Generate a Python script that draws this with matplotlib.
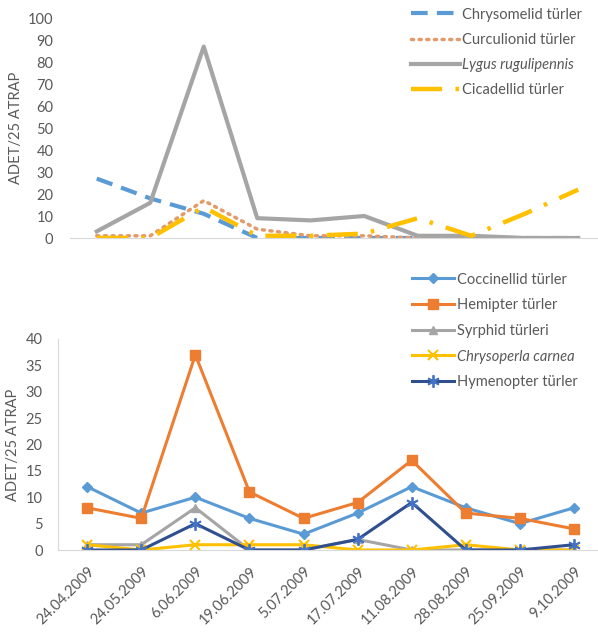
import matplotlib
matplotlib.use("Agg")
import matplotlib.pyplot as plt

plt.rcParams['font.family'] = ['Lato', 'DejaVu Sans']

dates = ["24.04.2009", "24.05.2009", "6.06.2009", "19.06.2009", "5.07.2009",
         "17.07.2009", "11.08.2009", "28.08.2009", "25.09.2009", "9.10.2009"]

# Pests (upper panel)
chrysomelid = [27, 18, 11, 0, 0, 0, 0, 0, 0, 0]
curculionid = [1, 1, 17, 4, 1, 1, 0, 0, 0, 0]
lygus = [3, 16, 87, 9, 8, 10, 1, 1, 0, 0]
cicadellid = [0, 0, 14, 1, 1, 2, 9, 1, 11, 22]

# Natural enemies (lower panel)
coccinellid = [12, 7, 10, 6, 3, 7, 12, 8, 5, 8]
hemipter = [8, 6, 37, 11, 6, 9, 17, 7, 6, 4]
syrphid = [1, 1, 8, 0, 0, 2, 0, 0, 0, 0]
chrysoperla = [1, 0, 1, 1, 1, 0, 0, 1, 0, 0]
hymenopter = [0, 0, 5, 0, 0, 2, 9, 0, 0, 1]

TXT = "#595959"
AXC = "#D9D9D9"
BLUE = "#5B9BD5"
ORANGE = "#ED7D31"
GRAY = "#A5A5A5"
GOLD = "#FFC000"
DKBLUE = "#2F4F8F"
FS = 10.5

W, H = 598, 643
fig = plt.figure(figsize=(W / 100, H / 100), dpi=100)


def frac(x0, y0, x1, y1):
    return [x0 / W, 1 - y1 / H, (x1 - x0) / W, (y1 - y0) / H]


x = list(range(len(dates)))

# ---------- upper panel ----------
ax1 = fig.add_axes(frac(70, 18, 605, 238))
ax1.plot(x, chrysomelid, color=BLUE, lw=3, dashes=(4, 2.2), label="Chrysomelid türler")
ax1.plot(x, curculionid, color="#E39A6A", lw=2.5, dashes=(0.6, 1.6),
         dash_capstyle='round', label="Curculionid türler")
ax1.plot(x, lygus, color=GRAY, lw=3, label="Lygus rugulipennis")
ax1.plot(x, cicadellid, color=GOLD, lw=3.2, dashes=(7, 3, 0.8, 3),
         label="Cicadellid türler")
ax1.set_xlim(-0.5, 9.5)
ax1.set_ylim(0, 100)
ax1.set_yticks(range(0, 101, 10))
ax1.set_xticks([])
for s in ("top", "right", "left"):
    ax1.spines[s].set_visible(False)
ax1.spines["bottom"].set_color(AXC)
ax1.tick_params(axis='y', length=0, pad=12, labelsize=FS, labelcolor=TXT)
ax1.set_ylabel("ADET/25 ATRAP", fontsize=FS, color=TXT)
ax1.yaxis.set_label_coords(-0.088, 0.5)
leg1 = ax1.legend(loc="upper left", bbox_to_anchor=(0.612, 1.107), frameon=False,
                  fontsize=FS, handlelength=3.4, handletextpad=0.15,
                  labelspacing=0.76, labelcolor=TXT)
leg1.get_texts()[2].set_style("italic")

# ---------- lower panel ----------
ax2 = fig.add_axes(frac(58, 339, 601, 550))
ax2.plot(x, coccinellid, color=BLUE, lw=2.2, marker='D', ms=5, label="Coccinellid türler")
ax2.plot(x, hemipter, color=ORANGE, lw=2.2, marker='s', ms=7, label="Hemipter türler")
ax2.plot(x, syrphid, color=GRAY, lw=2.2, marker='^', ms=6, label="Syrphid türleri")
ax2.plot(x, chrysoperla, color=GOLD, lw=2.2, marker='x', ms=7, mew=1.5,
         label="Chrysoperla carnea")
ax2.plot(x, hymenopter, color=DKBLUE, lw=2.2, marker=(6, 2, 0), ms=9, mew=1.3,
         mec="#4472C4", label="Hymenopter türler")
ax2.set_xlim(-0.54, 9.5)
ax2.set_ylim(0, 40)
ax2.set_yticks(range(0, 41, 5))
ax2.set_xticks(x)
ax2.set_xticklabels(dates, rotation=45, ha='right', rotation_mode='anchor')
for s in ("top", "right"):
    ax2.spines[s].set_visible(False)
ax2.spines["bottom"].set_color(AXC)
ax2.spines["left"].set_color(AXC)
ax2.tick_params(axis='y', length=0, pad=11, labelsize=FS, labelcolor=TXT)
ax2.tick_params(axis='x', length=0, pad=10, labelsize=FS, labelcolor=TXT)
ax2.set_ylabel("ADET/25 ATRAP", fontsize=FS, color=TXT)
ax2.yaxis.set_label_coords(-0.07, 0.5)
leg2 = ax2.legend(loc="upper left", bbox_to_anchor=(0.628, 1.377), frameon=False,
                  fontsize=FS, handlelength=2.9, handletextpad=0.15,
                  labelspacing=0.8, labelcolor=TXT)
leg2.get_texts()[3].set_style("italic")

fig.savefig("out.png", dpi=100)
